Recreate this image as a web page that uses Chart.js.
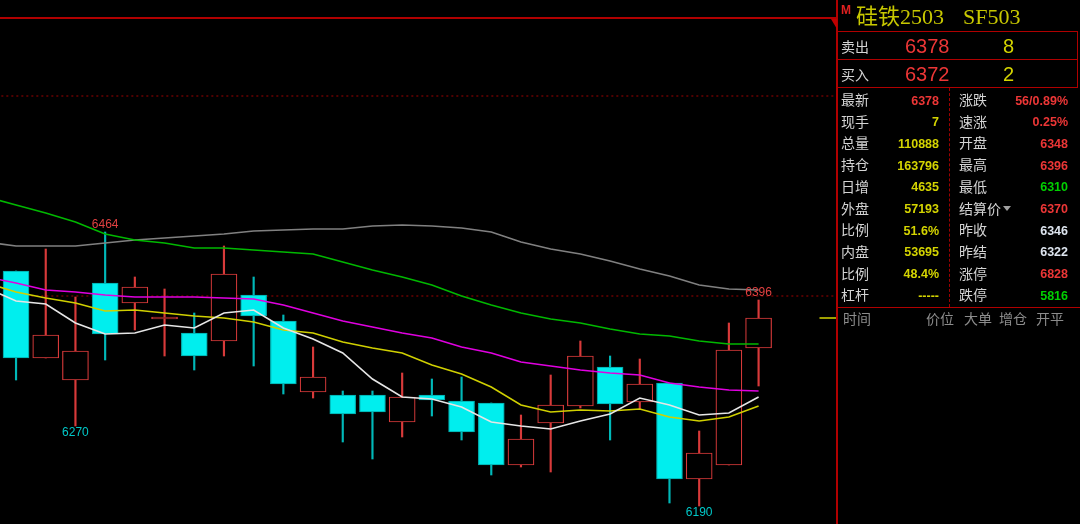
<!DOCTYPE html>
<html>
<head>
<meta charset="utf-8">
<script src="https://cdn.jsdelivr.net/npm/chart.js@4.4.1/dist/chart.umd.min.js"></script>
<style>
  body{margin:0;background:#000;width:1080px;height:524px;overflow:hidden;position:relative;font-family:"Noto Sans CJK SC",sans-serif;}
  #wrap{position:absolute;left:0;top:0;width:837px;height:524px;}
  .ln{position:absolute;background:#b00000;}
  .t{position:absolute;white-space:nowrap;line-height:20px;}
  .lab{font-size:14px;color:#d4d4d4;}
  .val{font-family:"Liberation Sans",Arial,sans-serif;font-weight:bold;font-size:12.5px;text-align:right;}
  .y{color:#d4d400}.r{color:#ec3636}.g{color:#00d000}.w{color:#dde4ee}
  .hd{font-size:14px;color:#8c8c8c;}
</style>
</head>
<body>
<div id="wrap"><canvas id="kline"></canvas></div>

<!-- frame -->
<div class="ln" style="left:0;top:17px;width:837px;height:2px"></div>
<div class="ln" style="left:836px;top:0;width:2px;height:524px"></div>
<div style="position:absolute;left:831px;top:19px;width:0;height:0;border-top:10px solid #c00000;border-left:6px solid transparent"></div>
<div class="ln" style="left:838px;top:31px;width:240px;height:1px"></div>
<div class="ln" style="left:838px;top:59px;width:240px;height:1px"></div>
<div class="ln" style="left:838px;top:87px;width:240px;height:1px"></div>
<div class="ln" style="left:1077px;top:31px;width:1px;height:57px"></div>
<div class="ln" style="left:838px;top:307px;width:242px;height:1px"></div>
<div style="position:absolute;left:949px;top:88px;width:0;height:219px;border-left:1px dashed #a00000"></div>

<!-- header -->
<div class="t" style="left:841px;top:3px;font:bold 12px 'Liberation Sans',Arial;color:#e02020">M</div>
<div class="t" style="left:856px;top:4px;font-size:22px;line-height:26px;color:#c8c800;font-family:'Liberation Serif','Noto Sans CJK SC',serif">硅铁2503</div>
<div class="t" style="left:963px;top:4px;font-size:22px;line-height:26px;color:#c8c800;font-family:'Liberation Serif',serif">SF503</div>

<div class="t lab" style="left:841px;top:36px">卖出</div>
<div class="t r" style="left:905px;top:35px;font:20px/22px 'Liberation Sans',Arial">6378</div>
<div class="t y" style="left:1003px;top:35px;font:20px/22px 'Liberation Sans',Arial">8</div>
<div class="t lab" style="left:841px;top:64px">买入</div>
<div class="t r" style="left:905px;top:63px;font:20px/22px 'Liberation Sans',Arial">6372</div>
<div class="t y" style="left:1003px;top:63px;font:20px/22px 'Liberation Sans',Arial">2</div>

<div id="quote"></div>

<div class="t hd" style="left:843px;top:308px">时间</div>
<div class="t hd" style="left:926px;top:308px">价位</div>
<div class="t hd" style="left:964px;top:308px">大单</div>
<div class="t hd" style="left:999px;top:308px">增仓</div>
<div class="t hd" style="left:1036px;top:308px">开平</div>

<script>
// candles, oldest to newest
const open  = [6425, 6338, 6316, 6413, 6393, 6377, 6363, 6355, 6401, 6375, 6304, 6301, 6301, 6274, 6301, 6295, 6293, 6231, 6273, 6290, 6329, 6294, 6313, 6217, 6231, 6348];
const close = [6338, 6361, 6345, 6362, 6409, 6379, 6340, 6422, 6380, 6312, 6319, 6282, 6284, 6299, 6296, 6264, 6231, 6257, 6291, 6340, 6292, 6312, 6217, 6243, 6346, 6378];
const high  = [6425, 6447, 6399, 6464, 6419, 6407, 6383, 6450, 6419, 6381, 6349, 6305, 6305, 6323, 6317, 6319, 6293, 6281, 6321, 6355, 6340, 6337, 6313, 6265, 6373, 6396];
const low   = [6316, 6338, 6270, 6336, 6366, 6340, 6326, 6340, 6330, 6302, 6298, 6254, 6237, 6259, 6280, 6256, 6221, 6229, 6224, 6288, 6256, 6287, 6193, 6190, 6231, 6310];

// moving averages, starting one bar before the first visible candle
const ma1 = [6408, 6395, 6392, 6373, 6362, 6363, 6371, 6368, 6383, 6386, 6368, 6357, 6343, 6317, 6299, 6297, 6289, 6274, 6270, 6267, 6275, 6282, 6298, 6291, 6281, 6283, 6299];
const ma2 = [6413, 6404, 6398, 6393, 6385, 6386, 6383, 6380, 6378, 6374, 6366, 6363, 6354, 6348, 6343, 6331, 6322, 6309, 6291, 6284, 6286, 6285, 6287, 6279, 6275, 6279, 6290];
const ma3 = [6419, 6413, 6406, 6404, 6401, 6399, 6399, 6399, 6398, 6397, 6391, 6383, 6375, 6369, 6363, 6358, 6349, 6343, 6334, 6330, 6326, 6323, 6321, 6313, 6309, 6306, 6305];
const ma4 = [6499, 6491, 6483, 6474, 6462, 6456, 6453, 6448, 6448, 6446, 6444, 6442, 6434, 6426, 6419, 6411, 6400, 6391, 6383, 6377, 6373, 6367, 6362, 6360, 6355, 6352, 6352];
const ma5 = [6454, 6450, 6450, 6450, 6453, 6456, 6458, 6460, 6462, 6465, 6466, 6467, 6467, 6470, 6471, 6470, 6468, 6464, 6454, 6447, 6442, 6435, 6427, 6420, 6411, 6407, 6406];

const gridPrices = [6400, 6600];
const markIdx = [3, 2, 23, 25];
const markVal = [6464, 6270, 6190, 6396];
const markUp  = [true, false, false, true];

// quote table
const leftLabels  = ['最新','现手','总量','持仓','日增','外盘','比例','内盘','比例','杠杆'];
const leftValues  = ['6378','7','110888','163796','4635','57193','51.6%','53695','48.4%','-----'];
const leftColors  = ['r','y','y','y','y','y','y','y','y','y'];
const rightLabels = ['涨跌','速涨','开盘','最高','最低','结算价','昨收','昨结','涨停','跌停'];
const rightValues = ['56/0.89%','0.25%','6348','6396','6310','6370','6346','6322','6828','5816'];
const rightColors = ['r','r','r','r','g','r','w','w','r','g'];

let html = '';
for (let k = 0; k < leftLabels.length; k++) {
  const top = 89 + k * 21.7;
  html += `<div class="t lab" style="left:841px;top:${top}px">${leftLabels[k]}</div>`;
  html += `<div class="t val ${leftColors[k]}" style="left:880px;width:59px;top:${top + 1.5}px">${leftValues[k]}</div>`;
  html += `<div class="t lab" style="left:959px;top:${top}px">${rightLabels[k]}</div>`;
  html += `<div class="t val ${rightColors[k]}" style="left:1010px;width:58px;top:${top + 1.5}px">${rightValues[k]}</div>`;
}
html += `<div style="position:absolute;left:1003px;top:${89 + 5 * 21.7 + 8}px;width:0;height:0;border-top:5px solid #a0a0a0;border-left:4px solid transparent;border-right:4px solid transparent"></div>`;
document.getElementById('quote').innerHTML = html;

const RED = '#d83a3a', CYAN = '#00eeee', CYAN_EDGE = '#00a8a8', CYAN_WICK = '#00b8b8';
const up = close.map((c, i) => c >= open[i]);

const bodies = open.map((o, i) => ({x: i, y: [o, close[i]]}));
const wicks = low.map((l, i) => ({x: i, y: [l, high[i]]}));
const maLine = arr => arr.map((v, i) => ({x: i - 1, y: v}));
const mkLine = (arr, color) => ({
  type: 'line', data: maLine(arr), borderColor: color, borderWidth: 1.6,
  pointRadius: 0, tension: 0, order: 0
});

const gridSets = gridPrices.map(p => ({
  type: 'line', data: [{x: -1, y: p}, {x: 30, y: p}], borderColor: '#a00000',
  borderWidth: 1, borderDash: [2, 3], pointRadius: 0, order: 5
}));

const lastMark = {
  type: 'line', data: [{x: 27.05, y: close[close.length - 1]}, {x: 27.7, y: close[close.length - 1]}],
  borderColor: '#d4d400', borderWidth: 1.5, pointRadius: 0, order: 0
};

const markPlugin = {
  id: 'marks',
  afterDatasetsDraw(chart) {
    const {ctx, scales: {x, y}} = chart;
    ctx.save();
    ctx.font = '12px "Liberation Sans", Arial, sans-serif';
    ctx.textAlign = 'center';
    markIdx.forEach((idx, k) => {
      const px = x.getPixelForValue(idx);
      const py = y.getPixelForValue(markVal[k]);
      if (markUp[k]) {
        ctx.fillStyle = '#e04040';
        ctx.textBaseline = 'bottom';
        ctx.fillText(String(markVal[k]), px, py - 1);
      } else {
        ctx.fillStyle = '#00c8c8';
        ctx.textBaseline = 'top';
        ctx.fillText(String(markVal[k]), px, py + 1);
      }
    });
    ctx.restore();
  }
};

new Chart(document.getElementById('kline'), {
  type: 'bar',
  data: {
    datasets: [
      mkLine(ma1, '#e6e6e6'),
      mkLine(ma2, '#d0d000'),
      mkLine(ma3, '#e000e0'),
      mkLine(ma4, '#00b800'),
      mkLine(ma5, '#808080'),
      lastMark,
      {
        data: bodies, grouped: false, barThickness: 26, order: 1,
        backgroundColor: up.map(u => u ? '#000000' : CYAN),
        borderColor: up.map(u => u ? RED : CYAN_EDGE),
        borderWidth: 1.2, borderSkipped: false
      },
      {
        data: wicks, grouped: false, barThickness: 1.5, order: 2,
        backgroundColor: up.map(u => u ? RED : CYAN_WICK),
        borderWidth: 0
      },
      ...gridSets
    ]
  },
  options: {
    responsive: true,
    maintainAspectRatio: false,
    animation: false,
    events: [],
    layout: {padding: 0},
    plugins: {legend: {display: false}, tooltip: {enabled: false}},
    scales: {
      x: {type: 'linear', min: -0.54, max: 27.64, offset: false, display: false},
      y: {type: 'linear', min: 6172, max: 6696, display: false}
    }
  },
  plugins: [markPlugin]
});
</script>
</body>
</html>
